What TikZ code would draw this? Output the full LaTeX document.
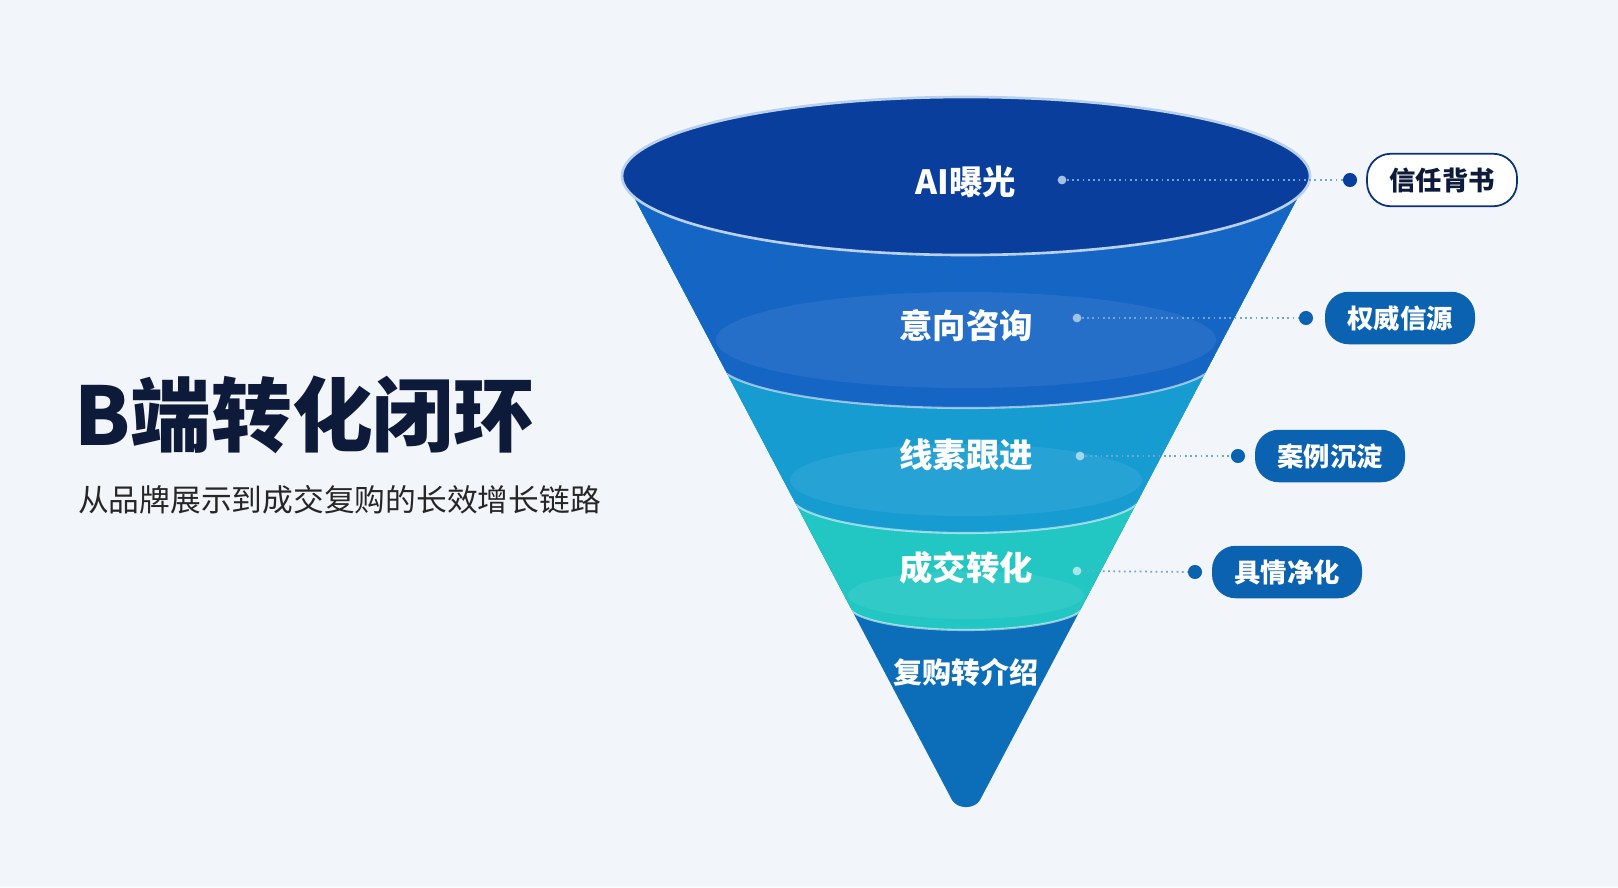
\documentclass[tikz,border=0pt]{standalone}
\usepackage{fontspec}
\setmainfont{Noto Sans CJK SC}
\begin{document}
\begin{tikzpicture}[x=0.02cm,y=-0.02cm,
 lab/.style={text=white,font=\bfseries\fontsize{19}{22}\selectfont},
 dot/.style={circle,fill=#1,inner sep=0pt,minimum size=8pt},
 lead/.style={dotted,line width=1pt,draw=#1},
 pill/.style={rounded corners=13.5pt,minimum width=3cm,minimum height=1.05cm,font=\bfseries\fontsize{15}{18}\selectfont,text=white,fill=#1},
 sep/.style={white,opacity=0.55,line width=1.2pt},
]
\definecolor{bg}{HTML}{F2F5F9}
\definecolor{c1}{HTML}{0A3E9C}
\definecolor{c2}{HTML}{1565C4}
\definecolor{c3}{HTML}{179CD2}
\definecolor{c4}{HTML}{22C6C2}
\definecolor{c5}{HTML}{0C6DB8}
\definecolor{pb}{HTML}{0B62B0}
\definecolor{navy}{HTML}{0E1A3A}
\fill[bg] (0,0) rectangle (1618,887);
\useasboundingbox (0,0) rectangle (1618,887);
% funnel
\begin{scope}
\clip (624,178) -- (952,800) to[out=-60,in=-120] (980,800) -- (1308,178) -- cycle;
\fill[c5] (0,0) rectangle (1618,887);
\fill[c4] (0,0) rectangle (1618,605); \fill[c4] (966,605) ellipse[x radius=118,y radius=25];
\fill[c3] (0,0) rectangle (1618,495); \fill[c3] (966,495) ellipse[x radius=176,y radius=38];
\fill[c2] (0,0) rectangle (1618,360); \fill[c2] (966,360) ellipse[x radius=250,y radius=48];
\fill[white,opacity=0.07] (966,340) ellipse[x radius=250,y radius=48];
\fill[white,opacity=0.07] (966,480) ellipse[x radius=176,y radius=36];
\fill[white,opacity=0.07] (966,595) ellipse[x radius=118,y radius=24];
\draw[sep] (1216,360) arc[start angle=0,end angle=180,x radius=250,y radius=48];
\draw[sep] (1142,495) arc[start angle=0,end angle=180,x radius=176,y radius=38];
\draw[sep] (1084,605) arc[start angle=0,end angle=180,x radius=118,y radius=25];
\end{scope}
\fill[c1] (966,176) ellipse[x radius=344,y radius=79];
\draw[white!70!c2,line width=1.5pt] (966,176) ellipse[x radius=344,y radius=79];
% labels
\node[lab] (l1) at (966,182) {AI曝光};
\node[lab] (l2) at (966,326) {意向咨询};
\node[lab] (l3) at (966,455) {线素跟进};
\node[lab] (l4) at (966,568) {成交转化};
\node[lab,font=\bfseries\fontsize{16.5}{20}\selectfont] (l5) at (966,672) {复购转介绍};
% dots & pills
\node[dot=white!60!c2,minimum size=5pt] (a1) at (1062,180) {};
\node[dot=c1] (b1) at (1350,180) {};
\draw[lead=c5!60] (a1) -- (b1);
\node[pill=white,draw=c1!80!black,line width=1pt,text=navy] (p1) at (1442,180) {信任背书};
\node[dot=white!60!c2,minimum size=5pt] (a2) at (1077,318) {};
\node[dot=pb] (b2) at (1306,318) {};
\draw[lead=c5!60] (a2) -- (b2);
\node[pill=pb] (p2) at (1400,318) {权威信源};
\node[dot=white!60!c3,minimum size=5pt] (a3) at (1080,456) {};
\node[dot=pb] (b3) at (1238,456) {};
\draw[lead=c5!60] (a3) -- (b3);
\node[pill=pb] (p3) at (1330,456) {案例沉淀};
\node[dot=white!60!c4,minimum size=5pt] (a4) at (1077,571) {};
\node[dot=pb] (b4) at (1195,572) {};
\draw[lead=c5!60] (a4) -- (b4);
\node[pill=pb] (p4) at (1287,572) {具情净化};
% title
\node[anchor=west,text=navy,font=\bfseries\fontsize{46}{50}\selectfont] (t) at (68,415) {B端转化闭环};
\node[anchor=west,text=black!85,font=\fontsize{17.5}{20}\selectfont] (s) at (72,500) {从品牌展示到成交复购的长效增长链路};
\end{tikzpicture}
\end{document}
